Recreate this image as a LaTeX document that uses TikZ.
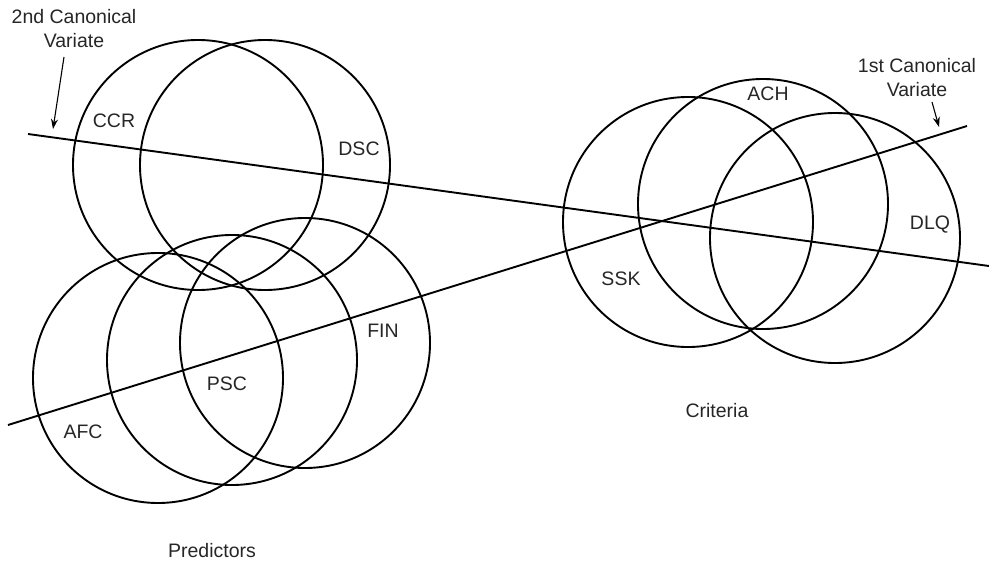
\documentclass[tikz,border=0pt]{standalone}
\usepackage{fontspec}
\setmainfont{Liberation Sans}
\usetikzlibrary{arrows.meta}
\begin{document}
\begin{tikzpicture}[x=1pt,y=-1pt,
  venn/.style={circle,draw,line width=1.9pt,minimum size=250pt,inner sep=0pt},
  varline/.style={line width=1.9pt},
  pointer/.style={line width=1.1pt,-{Stealth[length=10pt,width=7pt]}},
  lbl/.style={font=\fontsize{19.5}{24}\selectfont,inner sep=0pt,anchor=base,text=black!85},
  title/.style={font=\fontsize{19.5}{24}\selectfont,inner sep=0pt,align=center,text=black!85}]
\useasboundingbox (0,0) rectangle (989,562);

% predictor sets
\node[venn] (ccr) at (198,165) {};
\node[venn] (dsc) at (265,165) {};
\node[venn] (afc) at (158,378) {};
\node[venn] (psc) at (232,360) {};
\node[venn] (fin) at (305,343) {};

% criterion sets
\node[venn] (ssk) at (688,222) {};
\node[venn] (ach) at (763,204) {};
\node[venn] (dlq) at (835,238) {};

% canonical variate axes
\coordinate (v2a) at (28,134);
\coordinate (v2b) at (989,266);
\coordinate (v1a) at (8,425);
\coordinate (v1b) at (967,126);
\draw[varline] (v2a) -- (v2b);
\draw[varline] (v1a) -- (v1b);

% set labels
\node[lbl] (tccr) at (114,127) {CCR};
\node[lbl] (tdsc) at (359,155.5) {DSC};
\node[lbl] (tfin) at (383,337) {FIN};
\node[lbl] (tpsc) at (227,390.5) {PSC};
\node[lbl] (tafc) at (83,438) {AFC};
\node[lbl] (tach) at (768,100.5) {ACH};
\node[lbl] (tdlq) at (930,229) {DLQ};
\node[lbl] (tssk) at (621,285.5) {SSK};
\node[lbl] (tpred) at (212,557) {Predictors};
\node[lbl] (tcrit) at (717,417) {Criteria};

% axis titles with pointers (base anchor sits on the last line)
\node[title,anchor=base] (t2) at (74,47.3) {2nd Canonical\\Variate};
\node[title,anchor=base] (t1) at (917,96.7) {1st Canonical\\Variate};
\coordinate (p2a) at (64,57);
\coordinate (p2b) at (53,129);
\coordinate (p1a) at (932,102);
\coordinate (p1b) at (939,127);
\draw[pointer] (p2a) -- (p2b);
\draw[pointer] (p1a) -- (p1b);
\end{tikzpicture}
\end{document}
